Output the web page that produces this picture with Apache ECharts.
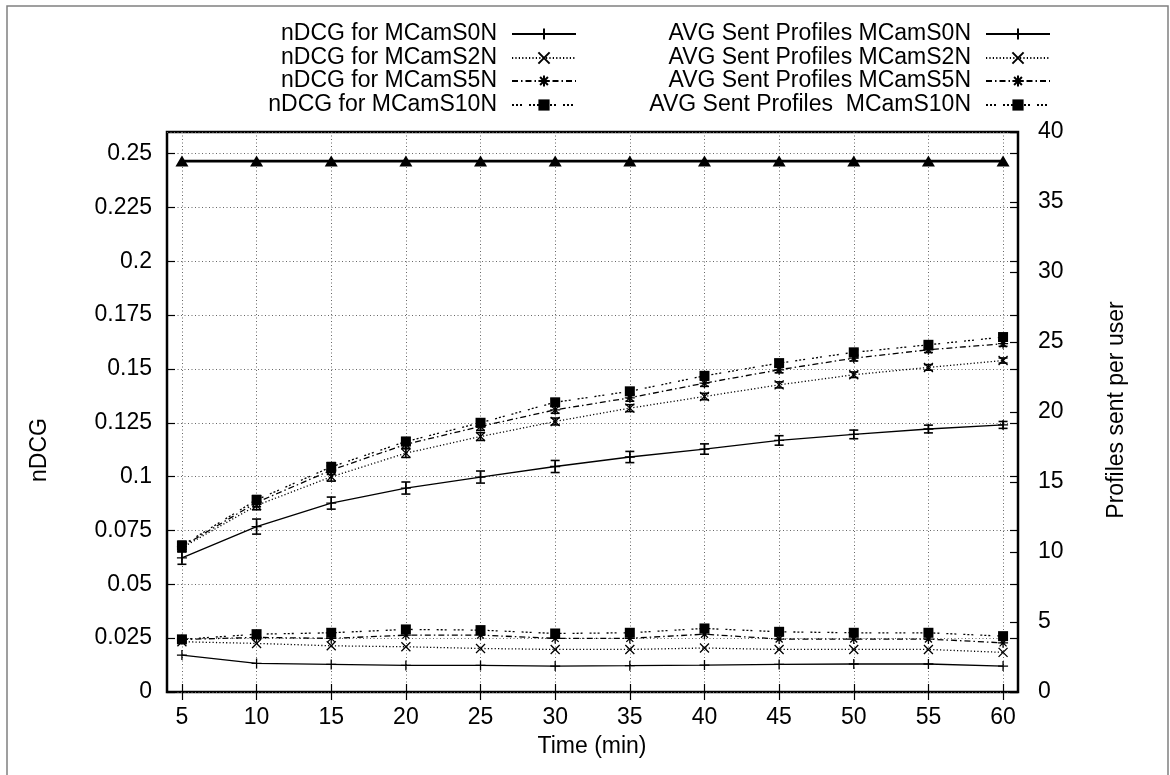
<!DOCTYPE html>
<html><head><meta charset="utf-8">
<script src="https://cdn.jsdelivr.net/npm/echarts@6/dist/echarts.min.js"></script>
<style>html,body{margin:0;padding:0;background:#fff}#c{width:1170px;height:775px}</style>
</head><body><div id="c"></div><script>
// ---- data ----
const times = [5,10,15,20,25,30,35,40,45,50,55,60];
const ndcgS0N    = [0.0623,0.0768,0.0877,0.0947,0.0998,0.1047,0.1091,0.1128,0.1168,0.1196,0.1221,0.1240];
const ndcgS0Nerr = [0.0030,0.0035,0.0028,0.0028,0.0028,0.0028,0.0026,0.0024,0.0022,0.0020,0.0018,0.0016];
const ndcgS2N    = [0.0670,0.0866,0.0999,0.1109,0.1186,0.1256,0.1318,0.1372,0.1426,0.1473,0.1507,0.1539];
const ndcgS2Nerr = [0.0020,0.0020,0.0020,0.0020,0.0018,0.0016,0.0016,0.0015,0.0014,0.0013,0.0013,0.0012];
const ndcgS5N    = [0.0675,0.0880,0.1030,0.1150,0.1233,0.1310,0.1366,0.1434,0.1496,0.1550,0.1589,0.1617];
const ndcgS5Nerr = [0.0020,0.0020,0.0020,0.0018,0.0018,0.0016,0.0016,0.0015,0.0014,0.0013,0.0013,0.0012];
const ndcgS10N    = [0.0680,0.0892,0.1045,0.1163,0.1250,0.1345,0.1396,0.1468,0.1527,0.1577,0.1612,0.1648];
const ndcgS10Nerr = [0.0020,0.0020,0.0020,0.0018,0.0018,0.0016,0.0016,0.0015,0.0014,0.0013,0.0013,0.0012];
const profS0N  = [2.64,2.04,1.97,1.90,1.90,1.85,1.88,1.92,1.97,2.00,2.00,1.85];
const profS2N  = [3.59,3.47,3.30,3.23,3.11,3.04,3.04,3.14,3.04,3.04,3.04,2.83];
const profS5N  = [3.75,3.90,3.83,4.06,4.06,3.83,3.83,4.13,3.78,3.78,3.78,3.51];
const profS10N = [3.76,4.13,4.23,4.47,4.42,4.18,4.23,4.54,4.30,4.23,4.23,3.99];
const refLine  = [0.2465,0.2465,0.2465,0.2465,0.2465,0.2465,0.2465,0.2465,0.2465,0.2465,0.2465,0.2465];
const names = {
  n0:'nDCG for MCamS0N', n2:'nDCG for MCamS2N', n5:'nDCG for MCamS5N', n10:'nDCG for MCamS10N',
  p0:'AVG Sent Profiles MCamS0N', p2:'AVG Sent Profiles MCamS2N', p5:'AVG Sent Profiles MCamS5N', p10:'AVG Sent Profiles  MCamS10N'
};

// ---- styles ----
const FONT = '"Liberation Sans", Arial, sans-serif';
const FS = 23;
const PLUS = 'path://M5,0L5,10M0,5L10,5';
const CROSS = 'path://M0,0L10,10M10,0L0,10';
const STAR = 'path://M5,0L5,10M0,5L10,5M1.5,1.5L8.5,8.5M8.5,1.5L1.5,8.5';
const dashes = { s0:'solid', s2:[1.2,2.2], s5:[6,3,1.5,3], s10:[2,2,2,2,2,7] };

function pairs(v){ return times.map((t,i)=>[t, v[i]]); }
function errPairs(v,e){ return times.map((t,i)=>[t, v[i], e[i]]); }

function lineSeries(name, vals, yIdx, symbol, size, dash){
  const filled = symbol === 'rect';
  return {
    name, type:'line', xAxisIndex:0, yAxisIndex:yIdx, data:pairs(vals),
    symbol, symbolSize:size, showAllSymbol:true, symbolKeepAspect:true,
    lineStyle:{color:'#000', width:1.3, type:dash},
    itemStyle:{color:'#000', borderColor:'#000', borderWidth: filled?0:1.3},
    emphasis:{disabled:true}, z:3
  };
}
function errSeries(vals, errs){
  return {
    type:'custom', xAxisIndex:0, yAxisIndex:0, data:errPairs(vals,errs), silent:true, z:4,
    renderItem(params, api){
      const x = api.value(0), y = api.value(1), e = api.value(2);
      const hi = api.coord([x, y+e]), lo = api.coord([x, y-e]);
      const w = 4.5;
      const st = {stroke:'#000', lineWidth:1.6};
      return {type:'group', children:[
        {type:'line', shape:{x1:hi[0],y1:hi[1],x2:lo[0],y2:lo[1]}, style:st},
        {type:'line', shape:{x1:hi[0]-w,y1:hi[1],x2:hi[0]+w,y2:hi[1]}, style:st},
        {type:'line', shape:{x1:lo[0]-w,y1:lo[1],x2:lo[0]+w,y2:lo[1]}, style:st}
      ]};
    }
  };
}
function legendItem(name, right, top){
  return {
    data:[name], right, top, orient:'vertical', align:'right', padding:0,
    itemWidth:64, itemHeight:14, selectedMode:false,
    textStyle:{fontSize:FS, fontFamily:FONT, color:'#000', lineHeight:24, padding:[0,10,0,0]}
  };
}
const rowTops = [22,46,69,93];

const tickStyle = {show:true, inside:true, length:8, lineStyle:{color:'#000', width:1.2}};
const gridLine = {show:true, lineStyle:{color:'#666', width:1, type:[1,2.5]}};

const option = {
  backgroundColor:'#fff',
  animation:false,
  textStyle:{fontFamily:FONT},
  grid:{left:167, right:152, top:132, bottom:83, show:true, borderColor:'#000', borderWidth:2.5, backgroundColor:'transparent'},
  legend:[
    legendItem(names.n0, 593, rowTops[0]),
    legendItem(names.n2, 593, rowTops[1]),
    legendItem(names.n5, 593, rowTops[2]),
    legendItem(names.n10, 593, rowTops[3]),
    legendItem(names.p0, 119, rowTops[0]),
    legendItem(names.p2, 119, rowTops[1]),
    legendItem(names.p5, 119, rowTops[2]),
    legendItem(names.p10, 119, rowTops[3])
  ],
  xAxis:[
    {type:'value', min:4, max:61, position:'bottom',
     axisLine:{show:false}, axisTick:Object.assign({customValues:times}, tickStyle),
     axisLabel:{customValues:times, fontSize:FS, color:'#000', margin:14, fontFamily:FONT},
     splitLine:gridLine},
    {type:'value', min:4, max:61, position:'top',
     axisLine:{show:false}, axisTick:Object.assign({customValues:times}, tickStyle),
     axisLabel:{show:false}, splitLine:{show:false}}
  ],
  yAxis:[
    {type:'value', min:0, max:0.26, interval:0.025, position:'left',
     axisLine:{show:false}, axisTick:tickStyle,
     axisLabel:{fontSize:FS, color:'#000', margin:15, fontFamily:FONT, showMaxLabel:false,
       formatter:v => String(+v.toFixed(3))},
     splitLine:gridLine},
    {type:'value', min:0, max:40, interval:5, position:'right',
     axisLine:{show:false}, axisTick:tickStyle,
     axisLabel:{fontSize:FS, color:'#000', margin:20, fontFamily:FONT},
     splitLine:{show:false}},
    {type:'value', min:0, max:0.26, interval:0.025, position:'right',
     axisLine:{show:false}, axisTick:tickStyle, axisLabel:{show:false}, splitLine:{show:false}}
  ],
  graphic:[
    {type:'rect', shape:{x:7, y:6, width:1161, height:800}, style:{fill:'none', stroke:'#808080', lineWidth:1.5}, silent:true},
    {type:'text', x:40, y:450, rotation:Math.PI/2, style:{text:'nDCG', font:FS+'px '+FONT, fill:'#000', textAlign:'center', textVerticalAlign:'middle'}},
    {type:'text', x:1117, y:410, rotation:Math.PI/2, style:{text:'Profiles sent per user', font:FS+'px '+FONT, fill:'#000', textAlign:'center', textVerticalAlign:'middle'}},
    {type:'text', x:592, y:747, style:{text:'Time (min)', font:FS+'px '+FONT, fill:'#000', textAlign:'center', textVerticalAlign:'middle'}}
  ],
  series:[
    {name:'reference', type:'line', xAxisIndex:0, yAxisIndex:0, data:pairs(refLine),
     symbol:'triangle', symbolSize:[13,11], lineStyle:{color:'#000', width:2.8},
     itemStyle:{color:'#000'}, emphasis:{disabled:true}, z:3},
    lineSeries(names.n0, ndcgS0N, 0, PLUS, 10, dashes.s0),
    lineSeries(names.n2, ndcgS2N, 0, CROSS, 9, dashes.s2),
    lineSeries(names.n5, ndcgS5N, 0, STAR, 10, dashes.s5),
    lineSeries(names.n10, ndcgS10N, 0, 'rect', 10, dashes.s10),
    errSeries(ndcgS0N, ndcgS0Nerr),
    errSeries(ndcgS2N, ndcgS2Nerr),
    errSeries(ndcgS5N, ndcgS5Nerr),
    errSeries(ndcgS10N, ndcgS10Nerr),
    lineSeries(names.p0, profS0N, 1, PLUS, 10, dashes.s0),
    lineSeries(names.p2, profS2N, 1, CROSS, 9, dashes.s2),
    lineSeries(names.p5, profS5N, 1, STAR, 10, dashes.s5),
    lineSeries(names.p10, profS10N, 1, 'rect', 10, dashes.s10)
  ]
};
const chart = echarts.init(document.getElementById('c'), null, {renderer:'canvas'});
chart.setOption(option);
</script></body></html>
